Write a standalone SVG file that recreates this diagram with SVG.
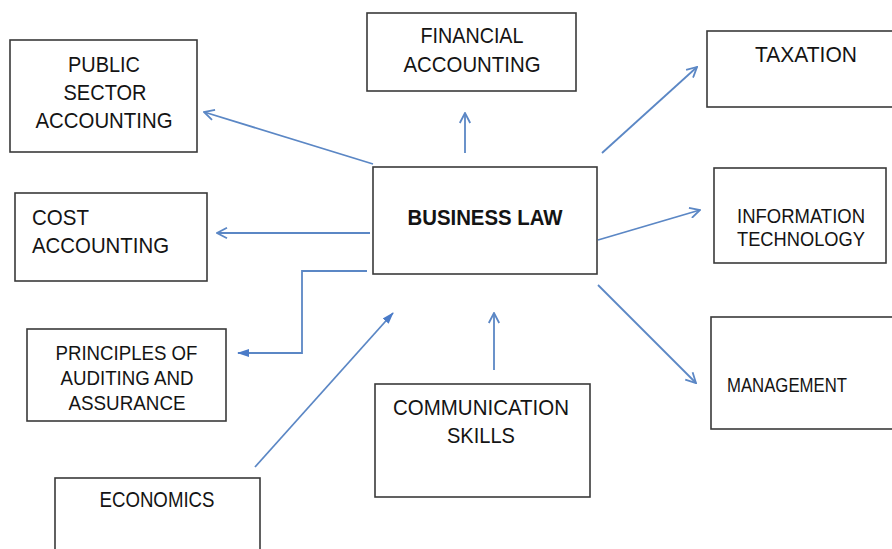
<svg xmlns="http://www.w3.org/2000/svg" width="892" height="549" viewBox="0 0 892 549">
<style>
.box{fill:#fff;stroke:#3a3a3a;stroke-width:1.6}
.t{font-family:"Liberation Sans",Arial,sans-serif;font-size:22px;fill:#141414}
.c{text-anchor:middle}
.b{font-weight:bold}
.con{fill:none;stroke:#5b87c5;stroke-width:1.8}
.open{marker-end:url(#open)}
.fill{marker-end:url(#solid)}
</style>
<defs>
<marker id="open" viewBox="0 0 12 12" refX="11" refY="6" markerWidth="12" markerHeight="12" markerUnits="userSpaceOnUse" orient="auto">
<path d="M1,0.8 L11,6 L1,11.2" fill="none" stroke="#5b87c5" stroke-width="1.8"/>
</marker>
<marker id="solid" viewBox="0 0 12 10" refX="11" refY="5" markerWidth="12" markerHeight="10" markerUnits="userSpaceOnUse" orient="auto">
<path d="M0,1 L12,5 L0,9 Z" fill="#4a7bc8"/>
</marker>
</defs>
<rect width="892" height="549" fill="#fff"/>
<g id="connectors">
<line class="con open" x1="373" y1="164" x2="204" y2="112"/>
<line class="con open" x1="465" y1="153" x2="465" y2="113"/>
<line class="con open" x1="602" y1="153" x2="697" y2="67"/>
<line class="con open" x1="370" y1="233" x2="217" y2="233"/>
<line class="con open" x1="598" y1="240" x2="700" y2="210"/>
<polyline class="con fill" points="367,271 302,271 302,353 238,353"/>
<line class="con fill" x1="255" y1="467" x2="393" y2="313"/>
<line class="con open" x1="494" y1="370" x2="494" y2="313"/>
<line class="con open" x1="598" y1="285" x2="696" y2="383"/>
</g>
<g id="business-law">
<rect class="box" x="373" y="167" width="224" height="107"/>
<text class="t c b" x="485" y="225" textLength="155" lengthAdjust="spacingAndGlyphs">BUSINESS LAW</text>
</g>
<g id="public-sector-accounting">
<rect class="box" x="10" y="40" width="187" height="112"/>
<text class="t c" x="104" y="72" textLength="72" lengthAdjust="spacingAndGlyphs">PUBLIC</text>
<text class="t c" x="105" y="100" textLength="83" lengthAdjust="spacingAndGlyphs">SECTOR</text>
<text class="t c" x="104" y="128" textLength="137" lengthAdjust="spacingAndGlyphs">ACCOUNTING</text>
</g>
<g id="financial-accounting">
<rect class="box" x="367" y="13" width="209" height="78"/>
<text class="t c" x="472" y="43" textLength="103" lengthAdjust="spacingAndGlyphs">FINANCIAL</text>
<text class="t c" x="472" y="72" textLength="137" lengthAdjust="spacingAndGlyphs">ACCOUNTING</text>
</g>
<g id="taxation">
<rect class="box" x="707" y="31" width="190" height="76"/>
<text class="t c" x="806" y="62" textLength="102" lengthAdjust="spacingAndGlyphs">TAXATION</text>
</g>
<g id="cost-accounting">
<rect class="box" x="15" y="193" width="192" height="88"/>
<text class="t" x="32" y="225" textLength="57" lengthAdjust="spacingAndGlyphs">COST</text>
<text class="t" x="32" y="253" textLength="137" lengthAdjust="spacingAndGlyphs">ACCOUNTING</text>
</g>
<g id="information-technology">
<rect class="box" x="714" y="168" width="172" height="95"/>
<text class="t c" x="801" y="223" style="font-size:21px" textLength="128" lengthAdjust="spacingAndGlyphs">INFORMATION</text>
<text class="t c" x="801" y="246" style="font-size:21px" textLength="128" lengthAdjust="spacingAndGlyphs">TECHNOLOGY</text>
</g>
<g id="principles-of-auditing">
<rect class="box" x="27" y="329" width="199" height="92"/>
<text class="t c" x="126.500" y="360" style="font-size:21px" textLength="142" lengthAdjust="spacingAndGlyphs">PRINCIPLES OF</text>
<text class="t c" x="127" y="385" style="font-size:21px" textLength="133" lengthAdjust="spacingAndGlyphs">AUDITING AND</text>
<text class="t c" x="127" y="410" style="font-size:21px" textLength="117" lengthAdjust="spacingAndGlyphs">ASSURANCE</text>
</g>
<g id="management">
<rect class="box" x="711" y="317" width="190" height="112"/>
<text class="t" x="727" y="392" style="font-size:19.500px" textLength="120" lengthAdjust="spacingAndGlyphs">MANAGEMENT</text>
</g>
<g id="communication-skills">
<rect class="box" x="375" y="384" width="215" height="113"/>
<text class="t c" x="481" y="415" textLength="176" lengthAdjust="spacingAndGlyphs">COMMUNICATION</text>
<text class="t c" x="481" y="443" textLength="68" lengthAdjust="spacingAndGlyphs">SKILLS</text>
</g>
<g id="economics">
<rect class="box" x="55" y="478" width="205" height="80"/>
<text class="t c" x="157" y="507" style="font-size:21.500px" textLength="115" lengthAdjust="spacingAndGlyphs">ECONOMICS</text>
</g>
</svg>
